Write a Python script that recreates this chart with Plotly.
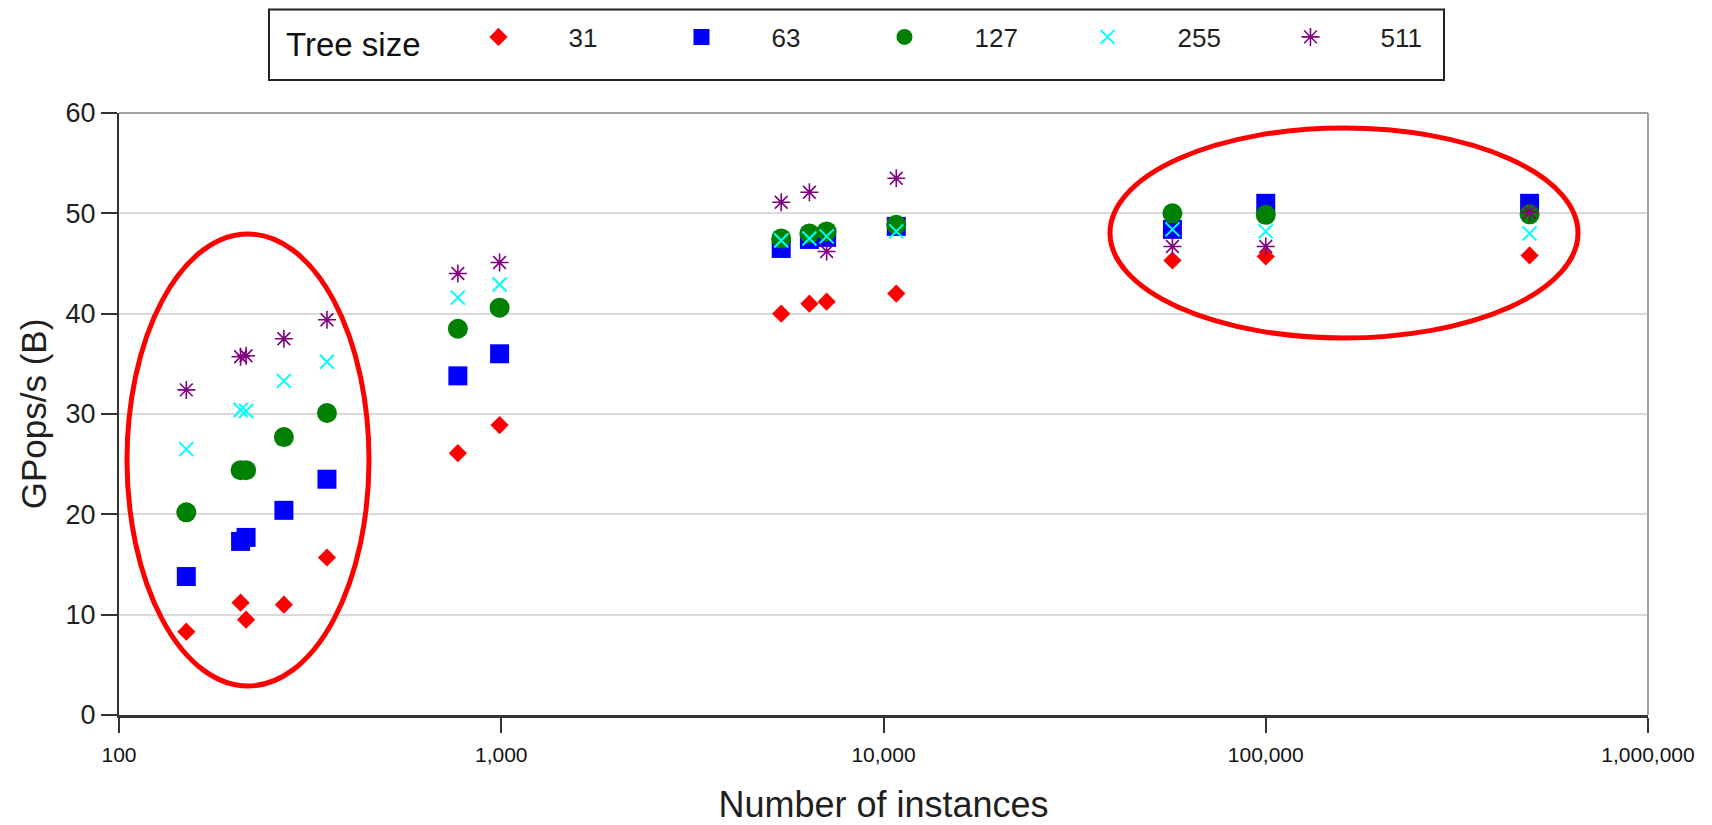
import plotly.graph_objects as go

# ---- data ----
instances = [150, 208, 215, 270, 350, 770, 990, 5400, 6400, 7100, 10800, 57000, 100000, 490000]
tree_sizes = ["31", "63", "127", "255", "511"]
gpops_31 = [8.3, 11.2, 9.5, 11.0, 15.7, 26.1, 28.9, 40.0, 41.0, 41.2, 42.0, 45.3, 45.7, 45.8]
gpops_63 = [13.8, 17.3, 17.7, 20.4, 23.5, 33.8, 36.0, 46.5, 47.4, 47.6, 48.7, 48.4, 51.0, 51.0]
gpops_127 = [20.2, 24.4, 24.4, 27.7, 30.1, 38.5, 40.6, 47.5, 48.0, 48.2, 48.85, 50.0, 49.85, 49.9]
gpops_255 = [26.5, 30.4, 30.3, 33.3, 35.2, 41.6, 42.9, 47.3, 47.5, 47.7, 48.2, 48.4, 48.2, 48.0]
gpops_511 = [32.4, 35.7, 35.8, 37.5, 39.4, 44.0, 45.1, 51.1, 52.1, 46.2, 53.5, 46.7, 46.7, 50.1]
x_tickvals = [100, 1000, 10000, 100000, 1000000]
x_ticktext = ["100", "1,000", "10,000", "100,000", "1,000,000"]
y_tickvals = [0, 10, 20, 30, 40, 50, 60]

series = [gpops_31, gpops_63, gpops_127, gpops_255, gpops_511]
styles = [
    dict(symbol="diamond", size=14, color="#FF0000"),
    dict(symbol="square", size=19, color="#0000FF"),
    dict(symbol="circle", size=20, color="#008000"),
    dict(symbol="x-thin-open", size=14, color="#00FFFF", line=dict(color="#00FFFF", width=2)),
    dict(symbol="asterisk-open", size=15, color="#800080", line=dict(color="#800080", width=1.6)),
]

FONT = "Liberation Sans, Arial, sans-serif"

fig = go.Figure()
for name, vals, st in zip(tree_sizes, series, styles):
    marker = dict(symbol=st["symbol"], size=st["size"], color=st["color"])
    marker["line"] = st.get("line", dict(width=0))
    fig.add_trace(go.Scatter(x=instances, y=vals, mode="markers", name=name, marker=marker))

# page has an 8px body margin; figure is sized to fill the rest of the window
OFF = 8
W, H = 1704, 817
L, R, T, B = 111, 64, 105, 110
pw, ph = W - L - R, H - T - B


def px(xp):  # page pixel x -> paper fraction
    return (xp - OFF - L) / pw


def py(yp):  # page pixel y -> paper fraction
    return (H - B - (yp - OFF)) / ph


shapes = [
    # gray frame top and right
    dict(type="line", xref="paper", yref="paper", x0=0, x1=1, y0=1, y1=1,
         line=dict(color="#A0A0A0", width=2)),
    dict(type="line", xref="paper", yref="paper", x0=1, x1=1, y0=0, y1=1,
         line=dict(color="#A0A0A0", width=2)),
    # red highlight ellipses
    dict(type="circle", xref="paper", yref="paper", x0=px(127), x1=px(369), y0=py(686), y1=py(234),
         line=dict(color="#FF0000", width=5)),
    dict(type="circle", xref="paper", yref="paper", x0=px(1110), x1=px(1578), y0=py(338), y1=py(128),
         line=dict(color="#FF0000", width=5)),
    # legend frame
    dict(type="rect", xref="paper", yref="paper", x0=px(269), x1=px(1444), y0=py(80), y1=py(9.5),
         line=dict(color="#222222", width=2)),
]

fig.update_layout(
    width=W, height=H,
    margin=dict(l=L, r=R, t=T, b=B, autoexpand=False),
    paper_bgcolor="white", plot_bgcolor="white",
    font=dict(family=FONT, color="#1F1F1F"),
    showlegend=True,
    legend=dict(
        orientation="h", x=px(284), xanchor="left", y=py(40), yanchor="middle",
        bgcolor="rgba(0,0,0,0)", borderwidth=0,
        font=dict(family=FONT, size=26, color="#1F1F1F"),
        title=dict(text="Tree size", font=dict(family=FONT, size=33, color="#111111"), side="left"),
        itemwidth=130, entrywidth=58, itemclick=False,
    ),
    shapes=shapes,
    xaxis=dict(
        type="log", range=[2, 6], tickvals=x_tickvals, ticktext=x_ticktext,
        showgrid=False, zeroline=False,
        showline=True, linecolor="#333333", linewidth=3,
        ticks="outside", ticklen=15, tickwidth=1.5, tickcolor="#333333",
        tickfont=dict(family=FONT, size=21, color="#111111"),
        ticklabelstandoff=4,
        title=dict(text="Number of instances", font=dict(family=FONT, size=36, color="#1F1F1F"), standoff=31),
    ),
    yaxis=dict(
        range=[0, 60], tickvals=y_tickvals, showgrid=True, gridcolor="#D9D9D9", gridwidth=1.5,
        zeroline=False, showline=True, linecolor="#333333", linewidth=2,
        ticks="outside", ticklen=16, tickwidth=2, tickcolor="#333333",
        tickfont=dict(family=FONT, size=27, color="#1F1F1F"),
        title=dict(text="GPops/s (B)", font=dict(family=FONT, size=35, color="#1F1F1F"), standoff=8),
    ),
)

fig.write_html("out.html")
